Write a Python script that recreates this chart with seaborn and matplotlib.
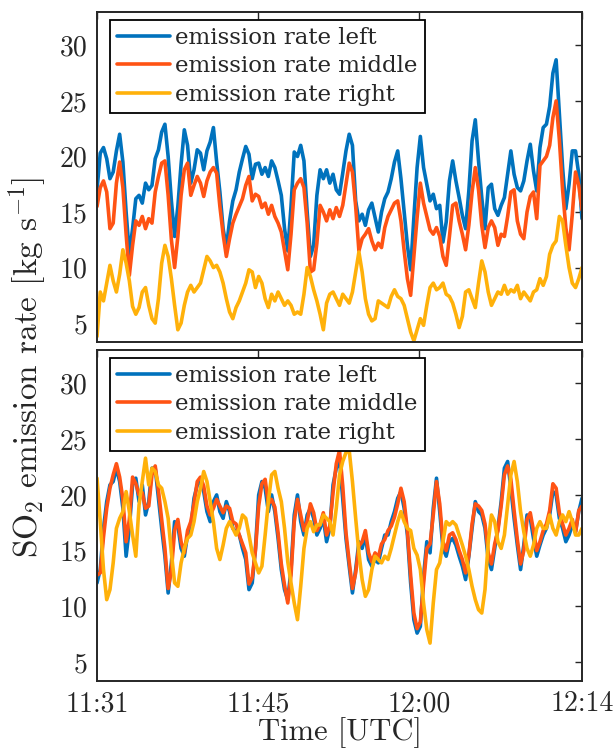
import numpy as np
import pandas as pd
import matplotlib
matplotlib.use("Agg")
import matplotlib.pyplot as plt
import seaborn as sns

# time axis: minutes after 11:00 (one sample about every 18 s)
minutes = np.linspace(30.0, 75.2, 151)

# upper panel
top_left = [
    17.0, 20.3, 20.8, 19.8, 18.0, 18.6, 20.5, 22.0, 19.5, 15.0, 11.2,
    13.5, 16.2, 16.5, 15.8, 17.6, 17.0, 17.4, 19.8, 20.6, 22.2,
    22.9, 20.0, 16.0, 12.8, 15.5, 19.3, 22.4, 21.0, 17.6, 18.8,
    20.6, 20.3, 18.8, 20.5, 21.3, 22.6, 19.5, 16.8, 13.5, 11.8,
    14.2, 16.0, 17.0, 18.6, 19.8, 20.9, 20.2, 18.0, 19.3, 19.4,
    18.4, 19.0, 18.2, 19.6, 19.0, 17.8, 16.5, 13.5, 11.5, 15.5,
    20.4, 20.0, 21.0, 19.6, 15.0, 11.0, 12.0, 16.5, 18.8, 18.0,
    18.8, 17.6, 18.4, 17.0, 16.6, 18.5, 20.5, 22.0, 21.0, 16.0,
    14.2, 14.8, 13.8, 15.2, 15.8, 14.5, 13.2, 15.0, 16.2, 16.8,
    18.0, 19.5, 20.5, 18.0, 15.0, 12.0, 9.8, 14.5, 19.0, 21.8,
    19.0, 17.5, 16.0, 16.6, 15.3, 15.6, 12.3, 14.1, 17.8, 19.6,
    17.8, 16.3, 14.7, 13.5, 16.9, 21.4, 23.3, 19.6, 16.3, 13.5,
    17.2, 17.5, 15.3, 14.7, 15.6, 16.3, 18.4, 20.5, 18.4, 17.2,
    16.9, 17.8, 19.6, 21.1, 18.7, 16.9, 20.8, 22.6, 22.9, 24.5,
    27.5, 28.7, 23.9, 19.0, 15.3, 17.5, 20.5, 20.5, 18.4, 14.4,
]
top_middle = [
    15.5, 17.2, 17.8, 16.8, 13.5, 14.0, 17.6, 19.5, 17.2, 13.0, 9.3,
    12.0, 14.2, 13.8, 14.6, 13.5, 14.4, 14.0, 16.8, 18.2, 19.4,
    19.6, 16.5, 12.5, 10.0, 12.8, 16.5, 18.8, 19.4, 16.5, 17.4,
    18.2, 17.6, 16.4, 17.8, 18.6, 19.0, 18.5, 15.5, 13.0, 11.0,
    12.6, 14.0, 14.8, 15.5, 16.2, 17.4, 18.2, 16.0, 16.6, 16.4,
    15.4, 15.8, 14.8, 15.6, 14.6, 14.0, 13.2, 11.5, 9.8, 13.0,
    17.0, 17.6, 18.0, 17.2, 14.0, 9.6, 9.8, 12.2, 15.6, 15.0,
    14.2, 15.2, 14.4, 15.4, 14.6, 15.6, 17.5, 19.4, 18.6, 15.5,
    11.5, 12.6, 13.0, 13.5, 12.4, 11.6, 12.2, 11.8, 13.6, 14.6,
    15.2, 15.8, 16.0, 14.2, 11.5, 9.0, 7.5, 11.0, 14.5, 17.6,
    15.8, 14.6, 13.4, 13.0, 13.6, 12.8, 11.0, 10.2, 12.8, 15.6,
    15.8, 14.2, 13.0, 11.6, 13.8, 16.8, 19.0, 17.0, 13.8, 11.8,
    13.6, 14.2, 13.6, 12.0, 13.0, 12.8, 14.6, 16.8, 17.0, 14.2,
    13.0, 12.6, 15.0, 16.4, 16.8, 14.4, 19.2, 19.6, 20.0, 21.0,
    23.5, 25.0, 21.5, 17.0, 13.6, 11.6, 14.8, 18.6, 17.4, 15.2,
]
top_right = [
    3.8, 7.8, 7.0, 8.6, 10.2, 8.8, 7.8, 9.4, 11.6, 10.4, 8.8,
    6.5, 5.8, 6.4, 7.8, 8.2, 6.6, 5.4, 5.0, 7.2, 10.4,
    12.0, 11.0, 9.0, 6.6, 4.4, 5.0, 6.6, 7.8, 8.4, 7.8,
    8.2, 8.6, 9.8, 11.0, 10.6, 10.0, 10.2, 9.6, 8.6, 7.2,
    6.0, 5.4, 6.4, 7.0, 7.8, 8.6, 9.8, 9.6, 8.2, 9.2,
    8.6, 7.2, 6.4, 7.6, 7.0, 7.8, 7.2, 6.6, 7.0, 6.6,
    5.8, 6.0, 5.8, 7.6, 10.0, 9.2, 8.0, 7.0, 5.8, 4.4,
    6.8, 7.6, 7.8, 7.2, 6.6, 7.6, 7.2, 6.8, 7.8, 9.6,
    11.4, 9.6, 7.2, 5.8, 5.2, 5.4, 7.0, 6.8, 6.6, 6.4,
    7.4, 8.0, 7.4, 7.2, 6.6, 5.4, 4.2, 3.4, 4.4, 5.4,
    4.8, 6.6, 8.2, 8.6, 8.0, 8.2, 8.6, 7.6, 7.4, 6.8,
    5.8, 4.6, 5.6, 7.8, 8.0, 7.2, 6.4, 8.6, 10.6, 9.6,
    7.8, 6.6, 7.2, 7.8, 7.6, 8.4, 7.6, 8.0, 7.8, 8.4,
    7.2, 7.8, 7.4, 7.0, 7.8, 8.0, 9.0, 8.4, 9.2, 11.2,
    12.0, 12.4, 14.6, 14.2, 12.0, 10.0, 8.6, 8.2, 9.0, 10.0,
]

# lower panel
bot_left = [
    12.1, 13.3, 17.0, 19.4, 20.9, 21.2, 22.4, 21.2, 18.8, 14.5, 17.0,
    20.9, 21.5, 19.4, 20.9, 18.2, 19.4, 22.4, 22.4, 19.7, 17.0,
    14.5, 11.2, 13.9, 17.6, 17.3, 15.2, 14.5, 16.4, 17.0, 19.7,
    20.9, 21.2, 20.3, 18.5, 17.6, 19.4, 20.0, 18.5, 17.9, 19.4,
    18.5, 17.0, 16.7, 16.4, 15.2, 14.2, 11.5, 12.1, 15.2, 20.0,
    21.2, 20.6, 18.5, 20.0, 18.5, 16.1, 13.3, 11.5, 10.6, 13.3,
    18.2, 20.0, 17.6, 16.4, 18.2, 18.8, 17.9, 16.4, 17.0, 17.9,
    15.8, 17.0, 20.9, 22.4, 23.2, 19.7, 16.1, 13.6, 11.2, 13.3,
    15.8, 15.2, 16.4, 14.2, 13.6, 14.2, 13.9, 15.2, 16.4, 16.4,
    17.6, 18.5, 19.7, 20.3, 18.8, 16.4, 12.1, 8.8, 7.6, 8.2,
    12.7, 15.8, 14.8, 18.8, 21.5, 18.5, 15.2, 14.5, 15.8, 16.1,
    15.5, 14.5, 13.6, 12.4, 14.5, 17.0, 19.4, 18.5, 18.2, 17.0,
    14.2, 13.3, 15.2, 17.0, 19.4, 22.4, 23.0, 20.6, 17.9, 15.5,
    13.3, 15.5, 18.2, 17.9, 16.1, 14.5, 15.5, 16.4, 17.0, 18.2,
    20.3, 20.0, 17.9, 17.0, 15.8, 16.4, 17.3, 16.7, 18.5, 19.7,
]
bot_middle = [
    12.8, 13.0, 16.2, 18.8, 20.6, 21.8, 22.8, 21.6, 19.6, 15.8, 17.8,
    21.6, 21.0, 20.0, 20.2, 18.8, 19.0, 21.8, 22.6, 20.4, 17.8,
    15.2, 11.6, 13.2, 16.8, 17.8, 15.8, 14.8, 16.8, 17.6, 19.2,
    21.2, 21.6, 20.8, 19.0, 18.2, 18.8, 19.6, 19.0, 18.4, 19.0,
    18.8, 17.6, 17.4, 16.4, 15.6, 14.8, 12.0, 12.6, 15.0, 19.0,
    21.0, 21.4, 19.2, 19.6, 18.9, 16.6, 13.8, 11.9, 10.3, 12.8,
    17.6, 19.6, 18.2, 16.8, 17.6, 19.2, 18.4, 16.8, 17.4, 18.4,
    16.4, 17.2, 20.2, 22.8, 24.0, 20.8, 16.6, 14.0, 11.6, 13.0,
    15.4, 15.8, 16.8, 14.8, 14.0, 14.8, 14.4, 15.6, 16.0, 16.8,
    17.2, 18.0, 19.2, 20.6, 19.4, 16.8, 12.8, 9.4, 8.0, 8.6,
    12.0, 15.2, 15.6, 18.2, 21.2, 19.2, 15.8, 15.0, 16.4, 16.6,
    16.0, 15.0, 14.2, 13.0, 14.6, 17.4, 19.2, 19.0, 18.6, 17.4,
    14.8, 13.8, 15.6, 16.8, 19.0, 21.8, 22.6, 21.4, 18.6, 16.0,
    13.8, 15.0, 17.8, 18.4, 16.8, 15.0, 15.8, 16.8, 17.4, 18.6,
    21.0, 20.6, 18.4, 17.4, 16.4, 17.0, 17.8, 16.6, 18.6, 19.0,
]
bot_right = [
    21.5, 17.6, 13.3, 10.6, 11.5, 13.9, 17.0, 17.9, 18.5, 20.3, 18.5,
    16.4, 14.5, 19.1, 21.2, 23.3, 20.9, 22.4, 22.1, 20.9, 20.6,
    19.4, 17.9, 14.8, 12.1, 11.8, 13.9, 15.2, 16.1, 16.4, 17.6,
    19.4, 20.6, 22.1, 21.2, 19.4, 17.6, 15.2, 14.2, 15.5, 17.0,
    17.6, 17.0, 16.4, 17.0, 18.2, 17.9, 16.4, 14.8, 13.9, 13.0,
    13.6, 16.4, 19.4, 21.8, 22.1, 20.6, 19.4, 17.0, 14.0, 12.1,
    10.3, 8.8, 11.8, 15.2, 17.0, 17.6, 16.7, 17.3, 17.3, 18.2,
    17.9, 17.6, 16.4, 18.8, 21.8, 23.0, 23.8, 24.0, 21.2, 17.9,
    14.8, 12.4, 10.9, 11.5, 13.3, 14.5, 14.2, 13.9, 14.5, 14.2,
    15.2, 16.4, 17.6, 18.5, 17.6, 17.0, 16.8, 15.2, 14.6, 13.3,
    10.3, 7.9, 6.7, 10.3, 13.3, 13.9, 15.8, 17.6, 17.3, 17.6,
    17.3, 16.4, 15.5, 14.5, 13.3, 11.8, 10.6, 9.7, 9.4, 11.5,
    15.8, 18.2, 17.6, 15.8, 15.2, 16.4, 19.1, 21.8, 23.0, 21.2,
    18.5, 16.7, 15.2, 14.5, 15.5, 17.0, 17.6, 17.0, 17.0, 18.2,
    17.0, 16.4, 17.6, 18.2, 17.6, 18.5, 17.6, 16.4, 16.4, 17.0,
]

series_names = ['emission rate left', 'emission rate middle', 'emission rate right']
colors = ['#0072BD', '#FF5314', '#FFB10A']
x_ticks = [30.0, 45.0, 60.0, 75.2]
x_labels = ['11:31', '11:45', '12:00', '12:14']
y_ticks = [5, 10, 15, 20, 25, 30]

for s in [top_left, top_middle, top_right, bot_left, bot_middle, bot_right]:
    assert len(s) == len(minutes), len(s)

sns.set_theme(style='white')
plt.rcParams['font.family'] = ['cmr10', 'DejaVu Serif']
plt.rcParams['mathtext.fontset'] = 'cm'
plt.rcParams['axes.unicode_minus'] = False
plt.rcParams['axes.formatter.use_mathtext'] = True

edge = '#262626'


def draw_panel(ax, left, middle, right):
    df = pd.DataFrame({
        't': np.tile(minutes, 3),
        'rate': np.concatenate([left, middle, right]),
        'series': np.repeat(series_names, len(minutes)),
    })
    sns.lineplot(data=df, x='t', y='rate', hue='series', hue_order=series_names,
                 palette=colors, linewidth=2.6, estimator=None, ax=ax)
    ax.set_xlim(30.0, 75.2)
    ax.set_ylim(3.3, 33.0)
    ax.set_xticks(x_ticks)
    ax.set_yticks(y_ticks)
    ax.set_yticklabels([str(v) for v in y_ticks])
    ax.set_xlabel('')
    ax.set_ylabel('')
    for sp in ax.spines.values():
        sp.set_visible(True)
        sp.set_color(edge)
        sp.set_linewidth(1.4)
    ax.tick_params(direction='in', length=5, width=1.0, top=True, right=True,
                   labelsize=20, colors=edge, pad=7)
    handles, labels = ax.get_legend_handles_labels()
    leg = ax.legend(handles, labels, loc='upper left', bbox_to_anchor=(0.027, 0.976),
                    borderaxespad=0, frameon=True, fancybox=False, framealpha=1,
                    edgecolor='black', prop={'family': 'DejaVu Serif', 'size': 16.5},
                    handlelength=2.3, handletextpad=0.25, borderpad=0.3,
                    labelspacing=0.28)
    leg.get_frame().set_linewidth(1.3)


fig = plt.figure(figsize=(6.16, 7.51), dpi=100)
ax_top = fig.add_axes([0.1575, 0.5446, 0.7873, 0.4394])
ax_bot = fig.add_axes([0.1575, 0.0932, 0.7873, 0.4407])

draw_panel(ax_top, top_left, top_middle, top_right)
draw_panel(ax_bot, bot_left, bot_middle, bot_right)

ax_top.set_xticklabels([])
ax_bot.set_xticklabels(x_labels)
ax_bot.set_xlabel('Time [UTC]', fontsize=22, color=edge, labelpad=0)

fig.text(0.045, 0.511, r'SO$_2$ emission rate [kg s$^{-1}$]', rotation=90,
         ha='center', va='center', fontsize=24, color=edge)

fig.savefig('out.png', dpi=100)
